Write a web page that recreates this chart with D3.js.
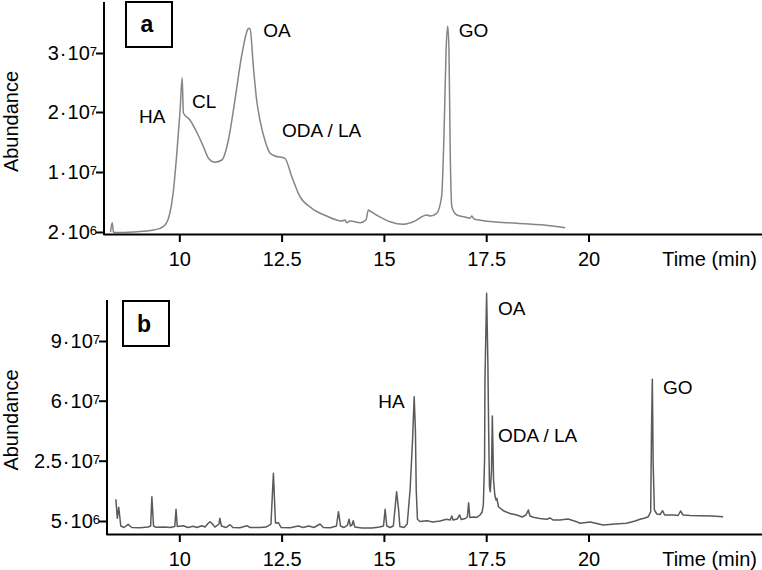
<!DOCTYPE html>
<html><head><meta charset="utf-8">
<script src="https://cdn.jsdelivr.net/npm/d3@7"></script>
<style>
html,body{margin:0;padding:0;background:#fff;}
svg{display:block;font-family:Arial,"Liberation Sans",sans-serif;}
</style></head>
<body><svg id="c" width="762" height="570"></svg>
<script>
// ---- data ----
const timeTicks = [10, 12.5, 15, 17.5, 20];
const aTickValues = [2e6, 1e7, 2e7, 3e7];
const aTickLabels = [["2", "6"], ["1", "7"], ["2", "7"], ["3", "7"]];
const bTickValues = [5e6, 2.5e7, 6e7, 9e7];
const bTickLabels = [["5", "6"], ["2.5", "7"], ["6", "7"], ["9", "7"]];

// chromatogram a
const aTime = [8.32,8.36,8.39,8.43,8.87,9.28,9.53,9.65,9.72,9.77,9.85,9.94,10.02,10.07,10.10,10.26,10.46,10.59,10.71,10.87,11.04,11.20,11.36,11.52,11.65,11.69,11.73,11.81,11.89,11.97,12.09,12.22,12.34,12.58,12.75,12.95,13.24,13.60,13.97,14.05,14.09,14.17,14.42,14.56,14.62,14.66,14.82,15.15,15.47,15.72,16.05,16.13,16.29,16.41,16.47,16.52,16.56,16.59,16.62,16.66,16.78,16.98,17.10,17.15,17.20,17.43,18.25,19.06,19.43];
const aAbundance = [2.0e6,3.24e6,2.0e6,1.93e6,2.0e6,2.2e6,2.49e6,2.93e6,3.6e6,4.53e6,7.2e6,1.317e7,2.034e7,2.581e7,1.983e7,1.867e7,1.617e7,1.422e7,1.233e7,1.162e7,1.2e7,1.533e7,2.203e7,2.937e7,3.361e7,3.419e7,3.407e7,2.768e7,2.203e7,1.867e7,1.533e7,1.312e7,1.267e7,1.228e7,9.37e6,6.71e6,5.16e6,4.13e6,3.47e6,3.6e6,3.24e6,3.47e6,3.24e6,3.6e6,4.93e6,4.8e6,4.27e6,3.37e6,3.03e6,3.37e6,4.27e6,4.13e6,4.49e6,6.71e6,1.65e7,3.051e7,3.458e7,3.051e7,1.367e7,5.37e6,4.27e6,4.0e6,3.83e6,4.13e6,3.73e6,3.51e6,3.16e6,2.84e6,2.57e6];

// chromatogram b
const bTime = [8.45,8.485,8.52,8.57,8.65,8.75,8.84,9.04,9.24,9.30,9.33,9.37,9.43,9.65,9.77,9.89,9.92,9.95,10.10,10.21,10.34,10.43,10.55,10.63,10.70,10.75,10.80,10.87,10.97,10.99,11.03,11.14,11.24,11.31,11.48,11.65,11.73,11.97,12.12,12.24,12.30,12.35,12.42,12.49,12.71,12.91,13.03,13.16,13.29,13.44,13.52,13.69,13.84,13.89,13.94,14.02,14.11,14.15,14.18,14.22,14.25,14.29,14.46,14.71,14.90,14.99,15.03,15.07,15.15,15.23,15.28,15.31,15.36,15.39,15.49,15.57,15.64,15.70,15.74,15.77,15.79,15.82,15.88,16.05,16.20,16.37,16.53,16.62,16.66,16.69,16.79,16.85,16.89,16.99,17.04,17.07,17.10,17.18,17.27,17.35,17.40,17.43,17.46,17.47,17.51,17.54,17.56,17.58,17.60,17.63,17.65,17.68,17.71,17.74,17.76,17.80,17.92,18.08,18.25,18.38,18.47,18.53,18.57,18.65,18.81,18.98,19.06,19.13,19.30,19.50,19.71,19.79,20.04,20.36,20.65,20.93,21.14,21.26,21.38,21.46,21.52,21.54,21.56,21.58,21.61,21.67,21.75,21.81,21.86,21.91,22.07,22.19,22.25,22.31,22.48,22.72,23.02,23.29];
const bAbundance = [1.22e7,5.9e6,9.54e6,3.34e6,2.84e6,3.9e6,2.84e6,2.74e6,3.0e6,3.34e6,1.306e7,3.34e6,2.9e6,3.0e6,2.84e6,3.18e6,8.88e6,3.18e6,3.44e6,2.84e6,3.24e6,2.84e6,3.44e6,3.0e6,4.17e6,4.77e6,4.17e6,3.0e6,4.0e6,5.9e6,3.34e6,2.84e6,3.77e6,2.84e6,2.74e6,3.44e6,2.84e6,2.84e6,3.0e6,4.0e6,2.082e7,4.34e6,4.44e6,2.84e6,2.74e6,3.34e6,2.84e6,3.34e6,2.84e6,4.0e6,2.84e6,2.74e6,3.34e6,8.08e6,3.34e6,2.84e6,3.67e6,5.56e6,3.34e6,3.67e6,5.1e6,3.0e6,2.68e6,2.68e6,3.0e6,3.34e6,8.88e6,3.34e6,2.84e6,3.34e6,1.03e7,1.472e7,8.65e6,3.18e6,2.84e6,4.0e6,1.53e7,3.707e7,6.201e7,4.291e7,1.528e7,5.56e6,4.83e6,5.1e6,4.67e6,5.0e6,5.56e6,5.33e6,6.66e6,5.33e6,5.66e6,6.99e6,5.5e6,5.83e6,6.33e6,1.107e7,6.16e6,6.33e6,6.23e6,6.99e6,7.99e6,1.03e7,2.54e7,7.04e7,1.1397e8,8.045e7,4.291e7,1.638e7,1.472e7,2.192e7,5.107e7,1.86e7,1.362e7,1.197e7,1.246e7,9.74e6,8.42e6,7.49e6,6.99e6,6.33e6,6.99e6,8.65e6,6.66e6,6.23e6,5.83e6,5.56e6,6.0e6,5.33e6,5.33e6,5.66e6,4.77e6,4.24e6,4.67e6,3.67e6,4.0e6,4.24e6,5.0e6,5.56e6,6.0e6,6.43e6,8.08e6,4.291e7,7.075e7,2.414e7,8.65e6,7.32e6,7.16e6,8.42e6,6.99e6,6.99e6,6.99e6,6.82e6,8.32e6,6.99e6,6.82e6,6.76e6,6.66e6,6.43e6];

// peak labels [text, time, abundance]
const aLabels = [["HA", 9.015, 1.817e7], ["CL", 10.31, 2.068e7], ["OA", 12.05, 3.271e7], ["ODA / LA", 12.51, 1.583e7], ["GO", 16.83, 3.271e7]];
const bLabels = [["HA", 14.86, 5.574e7], ["OA", 17.79, 1.0307e8], ["ODA / LA", 17.79, 3.591e7], ["GO", 21.82, 6.337e7]];

// ---- drawing ----
const svg = d3.select("#c");
const W = 762;

function panel(opt) {
  const g = svg.append("g");
  const x = d3.scaleLinear().domain([10, 20]).range([179.3, 588.5]);
  const xAx = x.copy().domain([x.invert(opt.left - 1), x.invert(W)]).range([opt.left - 1, W]);
  const y = d3.scaleLinear().domain(opt.tickValues).range(opt.tickPos);

  // trace
  const pts = opt.time.map((t, i) => [t, opt.abundance[i]]);
  g.append("path").datum(pts)
    .attr("fill", "none").attr("stroke", opt.color).attr("stroke-width", 1.5)
    .attr("stroke-linejoin", "round")
    .attr("d", d3.line().curve(opt.curve).x(d => x(d[0])).y(d => y(d[1])));

  // x axis
  const xg = g.append("g").attr("transform", `translate(0,${opt.bottom})`)
    .call(d3.axisBottom(xAx).tickValues(timeTicks).tickSizeInner(8).tickSizeOuter(0)
      .tickFormat(d3.format("")));
  xg.select(".domain").attr("stroke-width", 2);
  xg.selectAll(".tick line").attr("stroke-width", 2);
  xg.selectAll(".tick text").attr("font-size", 20).attr("font-family", "Arial, 'Liberation Sans', sans-serif")
    .attr("y", 0).attr("dy", 31.5).attr("fill", "#000");
  g.append("text").attr("x", 757).attr("y", opt.bottom + 31.5).attr("text-anchor", "end")
    .attr("font-size", 20).text("Time (min)");

  // y axis
  const yg = g.append("g").attr("transform", `translate(${opt.left},0)`)
    .call(d3.axisLeft(y).tickValues(opt.tickValues).tickSizeInner(8).tickSizeOuter(0).tickFormat(() => ""));
  yg.select(".domain").remove();
  yg.selectAll(".tick line").attr("stroke-width", 2);
  g.append("line").attr("x1", opt.left).attr("x2", opt.left)
    .attr("y1", opt.top).attr("y2", opt.bottom + 1).attr("stroke", "#000").attr("stroke-width", 2);
  opt.tickValues.forEach((v, i) => {
    const t = g.append("text").attr("x", opt.left - 7).attr("y", y(v) + 7)
      .attr("text-anchor", "end").attr("font-size", 20);
    t.append("tspan").text(opt.tickLabels[i][0]);
    t.append("tspan").attr("dx", 1).text("\u00B7");
    t.append("tspan").attr("dx", 1).text("10");
    t.append("tspan").attr("font-size", 13).attr("dy", -4).text(opt.tickLabels[i][1]);
  });
  g.append("text").attr("transform", `translate(18,${opt.ylabelY}) rotate(-90)`)
    .attr("text-anchor", "middle").attr("font-size", 20).text("Abundance");

  // panel letter box
  g.append("rect").attr("x", opt.box[0]).attr("y", opt.box[1]).attr("width", 46).attr("height", 45)
    .attr("fill", "#fff").attr("stroke", "#000").attr("stroke-width", 2);
  g.append("text").attr("x", opt.box[0] + 21).attr("y", opt.box[1] + opt.letterDy)
    .attr("text-anchor", "middle").attr("font-weight", "bold").attr("font-size", 23).text(opt.letter);

  // peak labels
  opt.labels.forEach(l => {
    g.append("text").attr("x", x(l[1])).attr("y", y(l[2])).attr("font-size", 19).text(l[0]);
  });
}

panel({
  time: aTime, abundance: aAbundance, color: "#858585", curve: d3.curveMonotoneX,
  tickValues: aTickValues, tickLabels: aTickLabels, tickPos: [232, 172, 112, 53],
  left: 104, top: 2, bottom: 234, ylabelY: 121.5,
  box: [126, 2], letter: "a", letterDy: 30, labels: aLabels
});
panel({
  time: bTime, abundance: bAbundance, color: "#5a5a5a", curve: d3.curveLinear,
  tickValues: bTickValues, tickLabels: bTickLabels, tickPos: [521, 460.7, 400.7, 341],
  left: 107, top: 300, bottom: 534, ylabelY: 420,
  box: [123, 301], letter: "b", letterDy: 31, labels: bLabels
});
</script></body></html>
